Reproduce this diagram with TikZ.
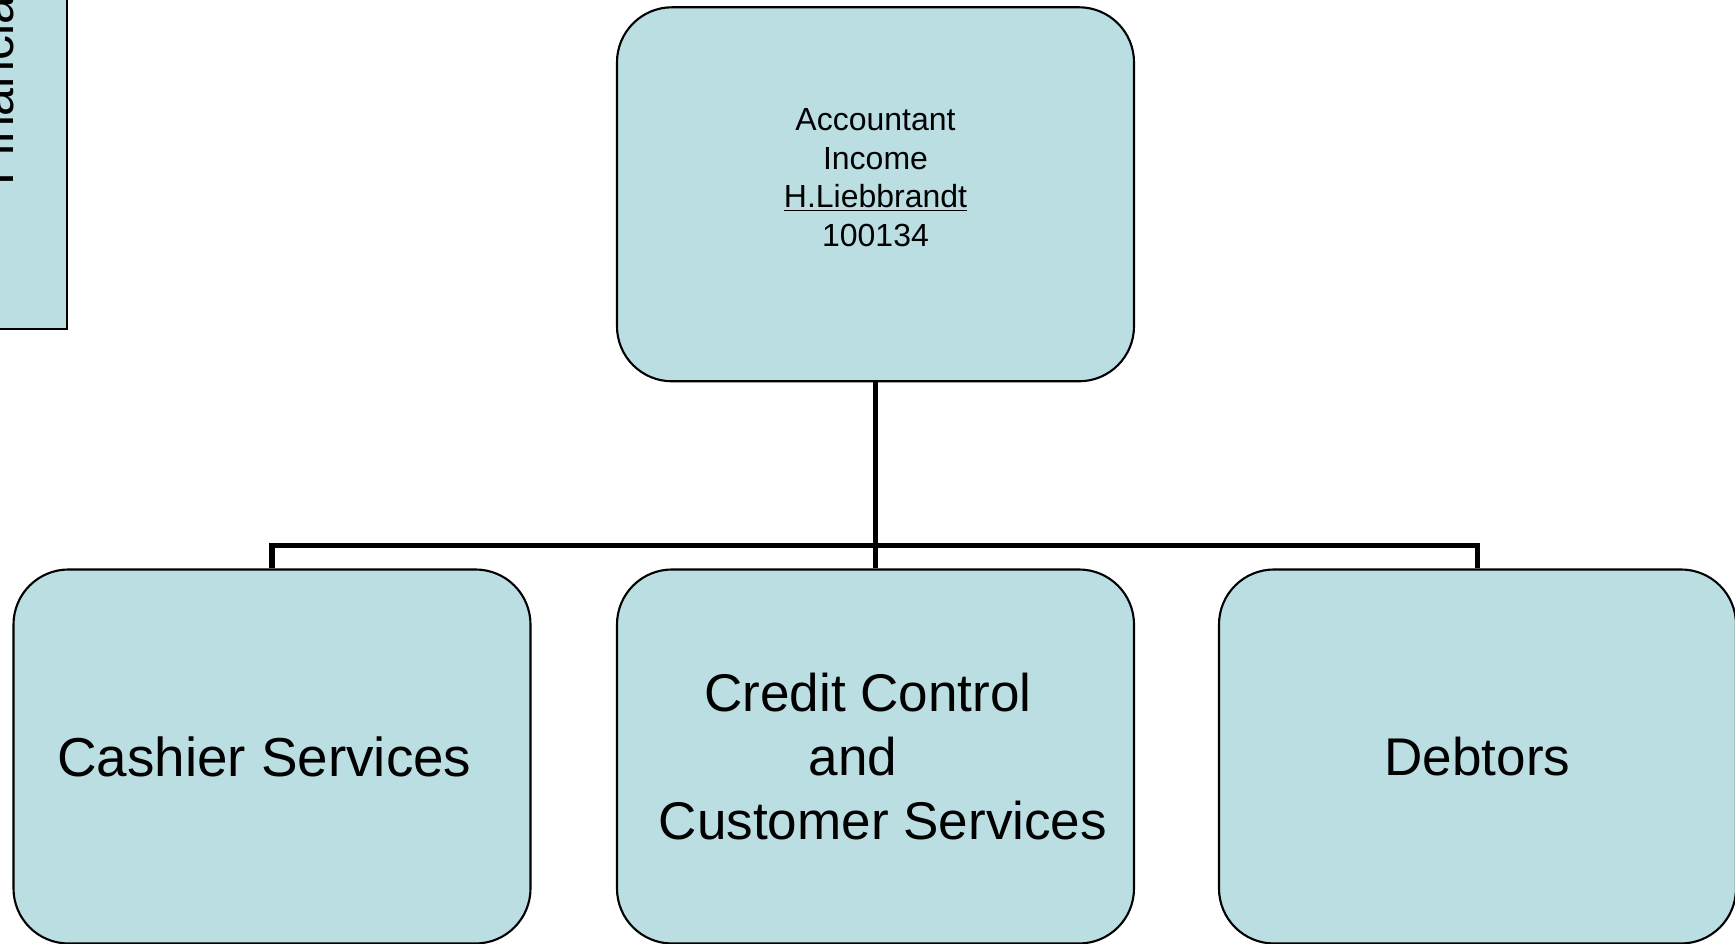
\documentclass[tikz,border=0pt]{standalone}
\usepackage{fontspec}
\setmainfont{Liberation Sans}
\usepackage{tikz}
\definecolor{boxblue}{RGB}{187,222,227}

\begin{document}
\begin{tikzpicture}[x=0.2mm,y=0.2mm,
  unit/.style={draw=black,fill=boxblue,line width=1.2pt,rounded corners=11mm,
    minimum width=103.4mm,minimum height=74.8mm,align=center,inner sep=0pt},
  small/.style={font=\fontsize{18.2}{22}\selectfont},
  big/.style={font=\fontsize{30.2}{36.4}\selectfont},
  link/.style={line width=3.2pt}]
  \useasboundingbox (0,0) rectangle (1735,944);

  \draw [fill=boxblue,line width=1.2pt] (-60,615) rectangle (67,1010);
  \node [rotate=90,anchor=base west,inner sep=0pt,font=\fontsize{28.5}{34}\selectfont] (fin) at (13.5,758) {Financial};

  \node [unit,small] (acct) at (875.5,749.7) {\rule{0pt}{15.5pt}Accountant\\Income\\\underline{H.Liebbrandt}\\100134\\\mbox{}};

  \node [unit,big,font=\fontsize{31.2}{37.4}\selectfont] (cash) at (272,187.5) {Cashier Services\rule{0.28em}{0pt}};
  \node [unit,big] (cred) at (875.5,187.5) {Credit Control\rule{0.28em}{0pt}\\and\rule{0.84em}{0pt}\\\rule{0.28em}{0pt}Customer Services};
  \node [unit,big] (debt) at (1477.5,187.5) {Debtors};

  \coordinate (bus) at (875.5,398.5);
  \draw [link] (acct.south) -- (bus);
  \foreach \n in {cash,cred,debt}
    \draw [link] (bus) -| (\n.north);
\end{tikzpicture}
\end{document}
